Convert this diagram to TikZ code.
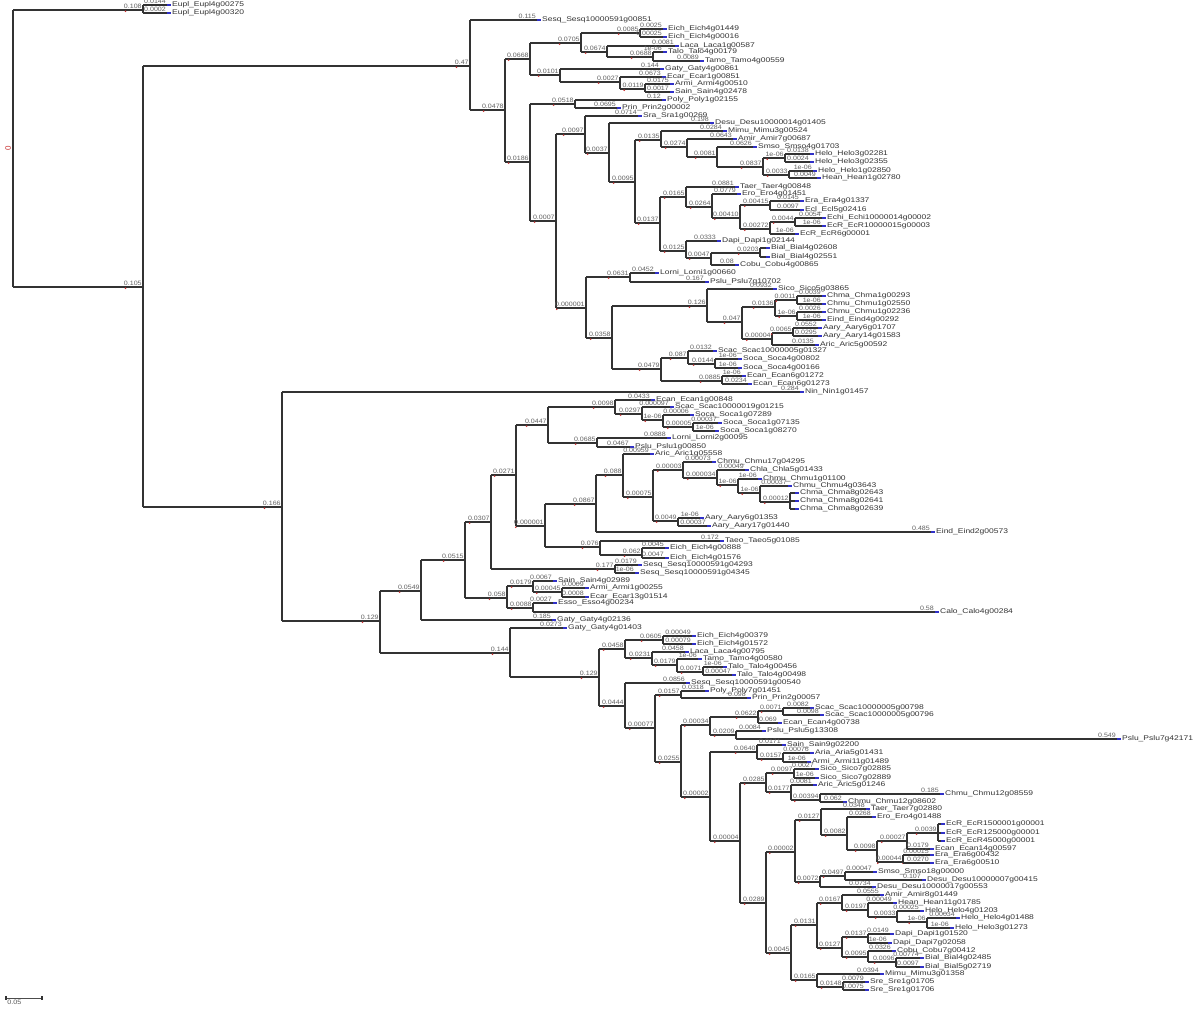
\documentclass[tikz,border=0pt]{standalone}
\usepackage{fontspec}
\setmainfont{Liberation Sans}
\newfontfamily\lblfont[FakeStretch=1.12]{Liberation Sans}
\newfontfamily\namefont[FakeStretch=1.25]{Liberation Sans}
\newcounter{lfc}
\definecolor{leafblue}{HTML}{3030C8}
\definecolor{nodered}{HTML}{C83030}
\tikzset{
 br/.style={draw=black!80, line width=0.75pt},
 bl/.style={font=\lblfont\fontsize{3.15}{3.15}\selectfont, text=black!62, inner sep=0pt, anchor=south east, yshift=0.4pt},
 lname/.style={font=\namefont\fontsize{3.4}{3.4}\selectfont, text=black!80, inner sep=0pt, anchor=west, xshift=2.4pt},
}
\newcommand\nd[7]{%
 \coordinate (#1) at (#3,#4);
 \draw[br] (#2 |- #1) -- (#1);
 \node[bl] (#1l) at ([xshift=-0.5pt]#1) {#5};
 \fill[nodered] ([xshift=1pt,yshift=-1pt]#1l.south west) circle (0.45pt);
 \fill[nodered] ([yshift=-0.6pt]#1) circle (0.4pt);
 \draw[br] (#3,#6) -- (#3,#7);
}
\newcommand\lf[5]{%
 \stepcounter{lfc}%
 \edef\lfn{lf\arabic{lfc}}%
 \coordinate (\lfn) at (#3,#2);
 \draw[br] (#1 |- \lfn) -- (\lfn);
 \node[bl] (\lfn l) at ([xshift=-0.4pt]\lfn) {#4};
 \fill[leafblue] ([yshift=-0.6pt]\lfn) rectangle ++(2pt,1.2pt);
 \node[lname] (\lfn n) at (\lfn) {#5};
}
\begin{document}
\begin{tikzpicture}[x=0.5pt,y=-0.5pt]
\fill[white] (0,0) rectangle (1200,1008);
\useasboundingbox (0,0) rectangle (1200,1008);
% root
\coordinate (root) at (13,148);
\draw[br] (13,10) -- (13,287);
\node[text=nodered, rotate=90, font=\fontsize{4}{4}\selectfont, inner sep=0pt] (rootl) at (8,148) {0};
\nd{eup}{root}{143}{10}{0.108}{5}{13}
\lf{eup}{5}{167}{0.0144}{Eupl\_Eupl4g00275}
\lf{eup}{13}{167}{0.0002}{Eupl\_Eupl4g00320}
\nd{big}{root}{143}{287}{0.105}{66}{507}
% ---------------- top clade
\nd{A1}{big}{470}{66}{0.47}{20}{110}
\lf{A1}{20}{537}{0.115}{Sesq\_Sesq10000591g00851}
\nd{A2}{A1}{505}{110}{0.0478}{59}{162}
\nd{A3}{A2}{530}{59}{0.0668}{43}{75}
\nd{A4}{A3}{581}{43}{0.0705}{33}{52}
\nd{A5}{A4}{640}{33}{0.0085}{29}{37}
\lf{A5}{29}{663}{0.0025}{Eich\_Eich4g01449}
\lf{A5}{37}{663}{0.00025}{Eich\_Eich4g00016}
\nd{A7}{A4}{607}{52}{0.0674}{46}{57}
\lf{A7}{46}{675}{0.0081}{Laca\_Laca1g00587}
\nd{A8}{A7}{653}{57}{0.0688}{52}{61}
\lf{A8}{52}{663}{1e-06}{Talo\_Talo4g00179}
\lf{A8}{61}{700}{0.0089}{Tamo\_Tamo4g00559}
\nd{A6}{A3}{560}{75}{0.0101}{69}{82}
\lf{A6}{69}{660}{0.144}{Gaty\_Gaty4g00861}
\nd{nA}{A6}{620}{82}{0.0027}{77}{89}
\lf{nA}{77}{662}{0.0673}{Ecar\_Ecar1g00851}
\nd{nB}{nA}{645}{89}{0.0119}{84}{92}
\lf{nB}{84}{670}{0.0175}{Armi\_Armi4g00510}
\lf{nB}{92}{670}{0.0017}{Sain\_Sain4g02478}
\nd{B}{A2}{530}{162}{0.0186}{104}{221}
\nd{nC}{B}{575}{104}{0.0518}{100}{108}
\lf{nC}{100}{662}{0.12}{Poly\_Poly1g02155}
\lf{nC}{108}{617}{0.0695}{Prin\_Prin2g00002}
\nd{C}{B}{556}{221}{0.0007}{134}{308}
\nd{D}{C}{585}{134}{0.0097}{116}{153}
\lf{D}{116}{638}{0.0714}{Sra\_Sra1g00269}
\nd{F}{D}{609}{153}{0.0037}{123}{182}
\lf{F}{123}{710}{0.198}{Desu\_Desu10000014g01405}
\nd{G}{F}{635}{182}{0.0095}{140}{223}
\nd{H}{G}{661}{140}{0.0135}{131}{147}
\lf{H}{131}{723}{0.0284}{Mimu\_Mimu3g00524}
\nd{I}{H}{687}{147}{0.0274}{139}{157}
\lf{I}{139}{733}{0.0643}{Amir\_Amir7g00687}
\nd{J}{I}{717}{157}{0.0081}{147}{167}
\lf{J}{147}{753}{0.0626}{Smso\_Smso4g01703}
\nd{K}{J}{763}{167}{0.0837}{158}{175}
\nd{Ka}{K}{785}{158}{1e-06}{154}{162}
\lf{Ka}{154}{810}{0.0138}{Helo\_Helo3g02281}
\lf{Ka}{162}{810}{0.0024}{Helo\_Helo3g02355}
\nd{Kb}{K}{789}{175}{0.0033}{171}{178}
\lf{Kb}{171}{813}{1e-06}{Helo\_Helo1g02850}
\lf{Kb}{178}{817}{0.0049}{Hean\_Hean1g02780}
\nd{N}{G}{660}{223}{0.0137}{197}{251}
\nd{P1}{N}{686}{197}{0.0165}{187}{207}
\lf{P1}{187}{735}{0.0881}{Taer\_Taer4g00848}
\nd{P2}{P1}{712}{207}{0.0264}{194}{218}
\lf{P2}{194}{737}{0.0779}{Ero\_Ero4g01451}
\nd{P3}{P2}{740}{218}{0.00410}{205}{229}
\nd{P4}{P3}{770}{205}{0.00415}{201}{210}
\lf{P4}{201}{800}{0.0145}{Era\_Era4g01337}
\lf{P4}{210}{800}{0.0097}{Ecl\_Ecl5g02416}
\nd{P5}{P3}{770}{229}{0.00272}{222}{234}
\nd{P6}{P5}{795}{222}{0.0044}{218}{226}
\lf{P6}{218}{822}{0.0054}{Echi\_Echi10000014g00002}
\lf{P6}{226}{822}{1e-06}{EcR\_EcR10000015g00003}
\lf{P5}{234}{795}{1e-06}{EcR\_EcR6g00001}
\nd{Q1}{N}{686}{251}{0.0125}{241}{258}
\lf{Q1}{241}{717}{0.0333}{Dapi\_Dapi1g02144}
\nd{Q2}{Q1}{711}{258}{0.0047}{253}{265}
\nd{Q3}{Q2}{760}{253}{0.0203}{248}{257}
\lf{Q3}{248}{766}{}{Bial\_Bial4g02608}
\lf{Q3}{257}{766}{}{Bial\_Bial4g02551}
\lf{Q2}{265}{735}{0.08}{Cobu\_Cobu4g00865}
\nd{E}{C}{586}{308}{0.000001}{277}{338}
\nd{R1}{E}{630}{277}{0.0631}{273}{282}
\lf{R1}{273}{655}{0.0452}{Lorni\_Lorni1g00660}
\lf{R1}{282}{705}{0.167}{Pslu\_Pslu7g10702}
\nd{R2}{E}{612}{338}{0.0358}{306}{369}
\nd{R3}{R2}{707}{306}{0.126}{289}{322}
\lf{R3}{289}{773}{0.0932}{Sico\_Sico5g03865}
\nd{R4}{R3}{742}{322}{0.047}{307}{339}
\nd{R5}{R4}{775}{307}{0.0136}{300}{316}
\nd{R6}{R5}{797}{300}{0.0011}{296}{304}
\lf{R6}{296}{822}{0.0039}{Chma\_Chma1g00293}
\lf{R6}{304}{822}{1e-06}{Chmu\_Chmu1g02550}
\nd{R7}{R5}{797}{316}{1e-06}{312}{320}
\lf{R7}{312}{822}{0.0026}{Chmu\_Chmu1g02236}
\lf{R7}{320}{822}{1e-06}{Eind\_Eind4g00292}
\nd{R8}{R4}{772}{339}{0.00004}{333}{345}
\nd{R9}{R8}{793}{333}{0.0065}{328}{336}
\lf{R9}{328}{818}{0.0552}{Aary\_Aary6g01707}
\lf{R9}{336}{818}{0.0295}{Aary\_Aary14g01583}
\lf{R8}{345}{815}{0.0135}{Aric\_Aric5g00592}
\nd{S1}{R2}{661}{369}{0.0479}{358}{381}
\nd{S2}{S1}{688}{358}{0.087}{351}{364}
\lf{S2}{351}{713}{0.0132}{Scac\_Scac10000005g01327}
\nd{S3}{S2}{715}{364}{0.0144}{359}{368}
\lf{S3}{359}{738}{1e-06}{Soca\_Soca4g00802}
\lf{S3}{368}{738}{1e-06}{Soca\_Soca4g00166}
\nd{S4}{S1}{722}{381}{0.0885}{376}{384}
\lf{S4}{376}{742}{1e-06}{Ecan\_Ecan6g01272}
\lf{S4}{384}{748}{0.0234}{Ecan\_Ecan6g01273}
% ---------------- middle clade
\nd{M0}{big}{282}{507}{0.166}{392}{621}
\lf{M0}{392}{800}{0.284}{Nin\_Nin1g01457}
\nd{M1}{M0}{380}{621}{0.129}{591}{653}
\nd{M2}{M1}{421}{591}{0.0549}{560}{620}
\nd{M3}{M2}{465}{560}{0.0515}{522}{598}
\nd{M4}{M3}{491}{522}{0.0307}{475}{569}
\nd{M6}{M4}{516}{475}{0.0271}{425}{526}
\nd{T1}{M6}{548}{425}{0.0447}{407}{443}
\nd{T2}{T1}{615}{407}{0.0098}{400}{414}
\lf{T2}{400}{651}{0.0433}{Ecan\_Ecan1g00848}
\nd{T3}{T2}{642}{414}{0.0297}{407}{420}
\lf{T3}{407}{670}{0.000097}{Scac\_Scac10000019g01215}
\nd{T4}{T3}{663}{420}{1e-06}{415}{427}
\lf{T4}{415}{690}{0.00006}{Soca\_Soca1g07289}
\nd{T5}{T4}{693}{427}{0.00005}{423}{431}
\lf{T5}{423}{718}{0.00037}{Soca\_Soca1g07135}
\lf{T5}{431}{715}{1e-06}{Soca\_Soca1g08270}
\nd{T6}{T1}{597}{443}{0.0685}{438}{447}
\lf{T6}{438}{667}{0.0888}{Lorni\_Lorni2g00095}
\lf{T6}{447}{630}{0.0467}{Pslu\_Pslu1g00850}
\nd{U1}{M6}{545}{526}{0.000001}{504}{547}
\nd{U2}{U1}{596}{504}{0.0867}{475}{532}
\nd{U3}{U2}{623}{475}{0.088}{454}{497}
\lf{U3}{454}{650}{0.00959}{Aric\_Aric1g05558}
\nd{U4}{U3}{653}{497}{0.00075}{470}{521}
\nd{U5}{U4}{683}{470}{0.00003}{462}{478}
\lf{U5}{462}{712}{0.00073}{Chmu\_Chmu17g04295}
\nd{U6}{U5}{717}{478}{0.000034}{470}{485}
\lf{U6}{470}{745}{0.00049}{Chla\_Chla5g01433}
\nd{U7}{U6}{738}{485}{1e-06}{479}{493}
\lf{U7}{479}{758}{1e-06}{Chmu\_Chmu1g01100}
\nd{U8}{U7}{760}{493}{1e-06}{486}{502}
\lf{U8}{486}{788}{0.00037}{Chmu\_Chmu4g03643}
\nd{U9}{U8}{790}{502}{0.00012}{493}{509}
\lf{U9}{493}{795}{}{Chma\_Chma8g02643}
\lf{U9}{501}{795}{}{Chma\_Chma8g02641}
\lf{U9}{509}{795}{}{Chma\_Chma8g02639}
\nd{U10}{U4}{678}{521}{0.0049}{518}{526}
\lf{U10}{518}{700}{1e-06}{Aary\_Aary6g01353}
\lf{U10}{526}{707}{0.00037}{Aary\_Aary17g01440}
\lf{U2}{532}{931}{0.485}{Eind\_Eind2g00573}
\nd{V1}{U1}{600}{547}{0.076}{541}{555}
\lf{V1}{541}{720}{0.172}{Taeo\_Taeo5g01085}
\nd{V2}{V1}{642}{555}{0.062}{548}{558}
\lf{V2}{548}{665}{0.0045}{Eich\_Eich4g00888}
\lf{V2}{558}{665}{0.0047}{Eich\_Eich4g01576}
\nd{W1}{M4}{615}{569}{0.177}{565}{573}
\lf{W1}{565}{638}{0.0179}{Sesq\_Sesq10000591g04293}
\lf{W1}{573}{635}{1e-06}{Sesq\_Sesq10000591g04345}
\nd{M5}{M3}{507}{598}{0.058}{586}{608}
\nd{X1}{M5}{533}{586}{0.0179}{581}{592}
\lf{X1}{581}{553}{0.0067}{Sain\_Sain4g02989}
\nd{X2}{X1}{562}{592}{0.00045}{588}{597}
\lf{X2}{588}{585}{0.0009}{Armi\_Armi1g00255}
\lf{X2}{597}{585}{0.0008}{Ecar\_Ecar13g01514}
\nd{X3}{M5}{533}{608}{0.0088}{603}{612}
\lf{X3}{603}{553}{0.0027}{Esso\_Esso4g00234}
\lf{X3}{612}{935}{0.58}{Calo\_Calo4g00284}
\lf{M2}{620}{552}{0.185}{Gaty\_Gaty4g02136}
% ---------------- lower clade
\nd{L0}{M1}{510}{653}{0.144}{628}{677}
\lf{L0}{628}{563}{0.0273}{Gaty\_Gaty4g01403}
\nd{L1}{L0}{599}{677}{0.129}{649}{706}
\nd{L2}{L1}{625}{649}{0.0458}{640}{658}
\nd{L3}{L2}{663}{640}{0.0605}{636}{644}
\lf{L3}{636}{692}{0.00049}{Eich\_Eich4g00379}
\lf{L3}{644}{692}{0.00079}{Eich\_Eich4g01572}
\nd{L4}{L2}{652}{658}{0.0231}{652}{665}
\lf{L4}{652}{685}{0.0458}{Laca\_Laca4g00795}
\nd{L5}{L4}{677}{665}{0.0179}{659}{672}
\lf{L5}{659}{698}{1e-06}{Tamo\_Tamo4g00580}
\nd{L6}{L5}{703}{672}{0.0071}{667}{675}
\lf{L6}{667}{723}{1e-06}{Talo\_Talo4g00456}
\lf{L6}{675}{732}{0.00047}{Talo\_Talo4g00498}
\nd{L7}{L1}{625}{706}{0.0444}{683}{728}
\lf{L7}{683}{686}{0.0856}{Sesq\_Sesq10000591g00540}
\nd{L8}{L7}{655}{728}{0.00077}{695}{762}
\nd{L9}{L8}{681}{695}{0.0157}{691}{698}
\lf{L9}{691}{705}{0.0318}{Poly\_Poly7g01451}
\lf{L9}{698}{747}{0.098}{Prin\_Prin2g00057}
\nd{L10}{L8}{681}{762}{0.0255}{725}{797}
\nd{L11}{L10}{710}{725}{0.00034}{717}{735}
\nd{L12}{L11}{758}{717}{0.0622}{711}{723}
\nd{L13}{L12}{783}{711}{0.0071}{708}{715}
\lf{L13}{708}{810}{0.0082}{Scac\_Scac10000005g00798}
\lf{L13}{715}{820}{0.0098}{Scac\_Scac10000005g00796}
\lf{L12}{723}{778}{0.069}{Ecan\_Ecan4g00738}
\nd{L14}{L11}{736}{735}{0.0209}{731}{739}
\lf{L14}{731}{762}{0.0084}{Pslu\_Pslu5g13308}
\lf{L14}{739}{1117}{0.549}{Pslu\_Pslu7g42171}
\nd{L15}{L10}{710}{797}{0.00002}{752}{841}
\nd{L16}{L15}{757}{752}{0.0640}{745}{759}
\lf{L16}{745}{782}{0.0171}{Sain\_Sain9g02200}
\nd{L17}{L16}{783}{759}{0.0157}{753}{762}
\lf{L17}{753}{810}{0.00076}{Aria\_Aria5g01431}
\lf{L17}{762}{807}{1e-06}{Armi\_Armi11g01489}
\nd{L18}{L15}{740}{841}{0.00004}{783}{903}
\nd{L19}{L18}{766}{783}{0.0285}{773}{792}
\nd{L20}{L19}{794}{773}{0.0097}{769}{778}
\lf{L20}{769}{815}{0.0027}{Sico\_Sico7g02885}
\lf{L20}{778}{815}{1e-06}{Sico\_Sico7g02889}
\nd{L21}{L19}{791}{792}{0.0177}{785}{800}
\lf{L21}{785}{813}{0.0081}{Aric\_Aric5g01246}
\nd{L22}{L21}{820}{800}{0.00394}{794}{802}
\lf{L22}{794}{940}{0.185}{Chmu\_Chmu12g08559}
\lf{L22}{802}{843}{0.062}{Chmu\_Chmu12g08602}
\nd{L23}{L18}{766}{903}{0.0289}{852}{953}
\nd{L24}{L23}{795}{852}{0.00002}{820}{882}
\nd{L25}{L24}{821}{820}{0.0127}{809}{835}
\lf{L25}{809}{866}{0.0348}{Taer\_Taer7g02880}
\nd{L26}{L25}{847}{835}{0.0082}{817}{850}
\lf{L26}{817}{872}{0.0268}{Ero\_Ero4g01488}
\nd{L27}{L26}{877}{850}{0.0098}{841}{862}
\nd{L28}{L27}{907}{841}{0.00027}{833}{849}
\nd{L29}{L28}{938}{833}{0.0039}{824}{841}
\lf{L29}{824}{941}{}{EcR\_EcR1500001g00001}
\lf{L29}{833}{941}{}{EcR\_EcR125000g00001}
\lf{L29}{841}{941}{}{EcR\_EcR45000g00001}
\lf{L28}{849}{930}{0.0179}{Ecan\_Ecan14g00597}
\nd{L31}{L27}{903}{862}{0.00044}{855}{863}
\lf{L31}{855}{930}{0.00015}{Era\_Era6g00432}
\lf{L31}{863}{930}{0.0270}{Era\_Era6g00510}
\nd{L32}{L24}{820}{882}{0.0072}{876}{887}
\nd{L33}{L32}{845}{876}{0.0497}{872}{880}
\lf{L33}{872}{873}{0.00047}{Smso\_Smso18g00000}
\lf{L33}{880}{922}{0.107}{Desu\_Desu10000007g00415}
\lf{L32}{887}{872}{0.0734}{Desu\_Desu10000017g00553}
\nd{L34}{L23}{791}{953}{0.0045}{925}{980}
\nd{L35}{L34}{817}{925}{0.0131}{903}{948}
\nd{L36}{L35}{842}{903}{0.0167}{895}{910}
\lf{L36}{895}{880}{0.0555}{Amir\_Amir8g01449}
\nd{L37}{L36}{868}{910}{0.0197}{903}{917}
\lf{L37}{903}{893}{0.00049}{Hean\_Hean11g01785}
\nd{L38}{L37}{897}{917}{0.0033}{911}{922}
\lf{L38}{911}{920}{0.00025}{Helo\_Helo4g01203}
\nd{L39}{L38}{927}{922}{1e-06}{918}{928}
\lf{L39}{918}{956}{0.00034}{Helo\_Helo4g01488}
\lf{L39}{928}{950}{1e-06}{Helo\_Helo3g01273}
\nd{L40}{L35}{842}{948}{0.0127}{937}{957}
\nd{L41}{L40}{868}{937}{0.0137}{934}{943}
\lf{L41}{934}{890}{0.0149}{Dapi\_Dapi1g01520}
\lf{L41}{943}{888}{1e-06}{Dapi\_Dapi7g02058}
\nd{L42}{L40}{868}{957}{0.0095}{951}{962}
\lf{L42}{951}{892}{0.0326}{Cobu\_Cobu7g00412}
\nd{L43}{L42}{896}{962}{0.0096}{958}{967}
\lf{L43}{958}{920}{0.00774}{Bial\_Bial4g02485}
\lf{L43}{967}{920}{0.0097}{Bial\_Bial5g02719}
\nd{L44}{L34}{817}{980}{0.0165}{974}{987}
\lf{L44}{974}{880}{0.0394}{Mimu\_Mimu3g01358}
\nd{L45}{L44}{843}{987}{0.0148}{982}{990}
\lf{L45}{982}{865}{0.0079}{Sre\_Sre1g01705}
\lf{L45}{990}{865}{0.0075}{Sre\_Sre1g01706}
% scale bar
\coordinate (sba) at (6,998);
\coordinate (sbb) at (42,998);
\draw[black!70, line width=0.5pt] (sba) -- (sbb);
\draw[black!80, line width=0.6pt] ([yshift=-0.8pt]sba) -- ([yshift=0.8pt]sba);
\draw[black!80, line width=0.6pt] ([yshift=-0.8pt]sbb) -- ([yshift=0.8pt]sbb);
\node[font=\lblfont\fontsize{3.2}{3.2}\selectfont, text=black!65, inner sep=0pt, anchor=north west] (sbl) at (7,1000) {0.05};
\end{tikzpicture}
\end{document}
